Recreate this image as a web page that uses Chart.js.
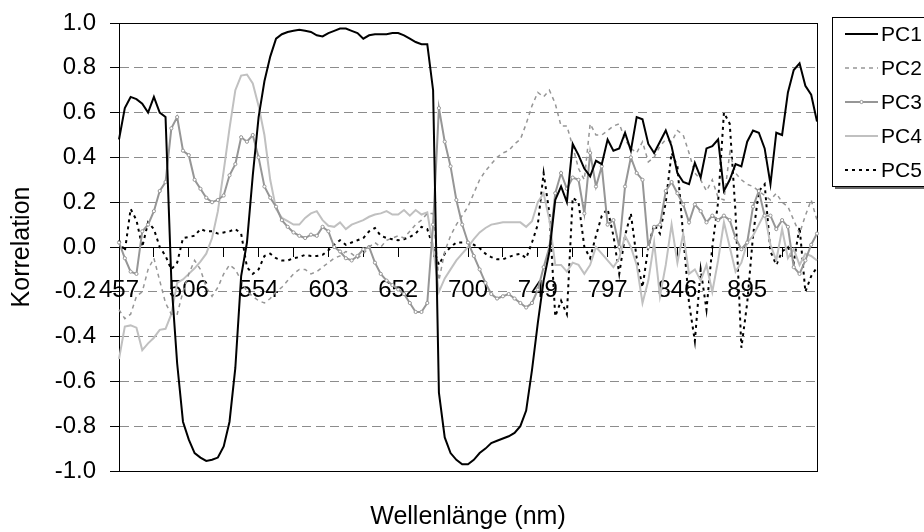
<!DOCTYPE html>
<html>
<head>
<meta charset="utf-8">
<script src="https://cdn.jsdelivr.net/npm/chart.js@4"></script>
<style>
  html, body { margin: 0; padding: 0; background: #fff; }
  #wrap { width: 924px; height: 532px; }
</style>
</head>
<body>
<div id="wrap"><canvas id="pcaChart" width="924" height="532"></canvas></div>
<script>
// wavelength categories (nm)
const wavelengths = [
    457, 461, 465, 469, 473, 477, 481, 486, 490, 494, 498, 502,
    506, 510, 514, 518, 522, 526, 530, 534, 538, 542, 546, 550,
    554, 558, 562, 566, 570, 574, 578, 583, 587, 591, 595, 599,
    603, 607, 611, 615, 619, 623, 627, 631, 635, 640, 644, 648,
    652, 656, 660, 664, 668, 672, 676, 680, 684, 688, 692, 696,
    700, 704, 708, 712, 716, 720, 724, 729, 733, 737, 741, 745,
    749, 753, 757, 761, 765, 769, 773, 777, 781, 785, 789, 793,
    797, 801, 805, 809, 813, 817, 821, 826, 830, 834, 838, 842,
    846, 850, 854, 858, 862, 866, 870, 874, 878, 882, 887, 891,
    895, 899, 903, 907, 911, 915, 919, 923, 927, 931, 935, 939,
    943
];

const pc1 = [
    0.48, 0.62, 0.67, 0.66, 0.64, 0.60, 0.67, 0.60, 0.58, -0.15,
    -0.52, -0.78, -0.86, -0.92, -0.94, -0.955, -0.95, -0.94, -0.89, -0.78,
    -0.54, -0.13, 0.02, 0.32, 0.58, 0.74, 0.85, 0.93, 0.95, 0.96,
    0.965, 0.97, 0.965, 0.96, 0.945, 0.94, 0.955, 0.965, 0.975, 0.975,
    0.965, 0.955, 0.93, 0.945, 0.95, 0.95, 0.95, 0.955, 0.955, 0.945,
    0.93, 0.915, 0.905, 0.905, 0.70, -0.65, -0.85, -0.92, -0.95, -0.97,
    -0.97, -0.95, -0.92, -0.90, -0.875, -0.865, -0.855, -0.845, -0.83, -0.80,
    -0.73, -0.55, -0.34, -0.15, -0.02, 0.21, 0.27, 0.20, 0.46, 0.41,
    0.35, 0.315, 0.385, 0.37, 0.48, 0.43, 0.44, 0.51, 0.43, 0.58,
    0.57, 0.46, 0.42, 0.47, 0.52, 0.45, 0.33, 0.29, 0.28, 0.375,
    0.31, 0.44, 0.45, 0.48, 0.25, 0.30, 0.37, 0.36, 0.47, 0.52,
    0.51, 0.44, 0.28, 0.51, 0.50, 0.69, 0.79, 0.82, 0.72, 0.68,
    0.56
];

const pc2 = [
    -0.28, -0.32, -0.30, -0.22, -0.20, -0.10, -0.05, -0.15, -0.25, -0.30,
    -0.30, -0.20, -0.12, -0.06, -0.10, -0.18, -0.22, -0.18, -0.12, -0.08,
    -0.10, -0.15, -0.20, -0.22, -0.24, -0.25, -0.23, -0.20, -0.18, -0.15,
    -0.12, -0.10, -0.10, -0.12, -0.11, -0.09, -0.07, -0.05, -0.04, -0.02,
    -0.03, -0.05, -0.03, 0.00, 0.02, 0.00, 0.03, 0.04, 0.05, 0.04,
    0.07, 0.10, 0.12, 0.15, 0.15, -0.15, -0.02, 0.05, 0.10, 0.14,
    0.18, 0.24, 0.30, 0.34, 0.37, 0.40, 0.42, 0.43, 0.46, 0.48,
    0.55, 0.63, 0.69, 0.67, 0.70, 0.64, 0.54, 0.54, 0.45, 0.35,
    0.30, 0.55, 0.50, 0.50, 0.52, 0.54, 0.55, 0.48, 0.44, 0.42,
    0.47, 0.38, 0.40, 0.45, 0.48, 0.47, 0.52, 0.50, 0.42, 0.33,
    0.30, 0.25, 0.30, 0.22, 0.21, 0.42, 0.33, 0.30, 0.28, 0.27,
    0.25, 0.23, 0.21, 0.24, 0.20, 0.18, 0.12, 0.06, 0.14, 0.21,
    0.12
];

const pc3 = [
    0.02, -0.05, -0.11, -0.12, 0.07, 0.10, 0.16, 0.25, 0.29, 0.53,
    0.58, 0.43, 0.41, 0.30, 0.26, 0.22, 0.20, 0.21, 0.23, 0.32,
    0.37, 0.49, 0.47, 0.50, 0.40, 0.27, 0.22, 0.18, 0.12, 0.09,
    0.065, 0.05, 0.04, 0.055, 0.05, 0.09, 0.07, 0.00, -0.02, -0.05,
    -0.06, -0.04, -0.01, 0.00, -0.07, -0.12, -0.15, -0.17, -0.19, -0.21,
    -0.25, -0.29, -0.29, -0.25, 0.10, 0.62, 0.47, 0.36, 0.21, 0.10,
    0.02, -0.04, -0.10, -0.16, -0.21, -0.23, -0.22, -0.21, -0.23, -0.25,
    -0.27, -0.25, -0.19, -0.09, 0.00, 0.24, 0.33, 0.26, 0.31, 0.30,
    0.15, 0.42, 0.27, 0.36, 0.10, 0.12, 0.00, 0.27, 0.40, 0.33,
    0.30, 0.00, 0.09, 0.10, 0.25, 0.29, 0.24, 0.19, 0.11, 0.19,
    0.16, 0.11, 0.14, 0.12, 0.14, 0.12, 0.04, -0.01, 0.02, 0.18,
    0.25, 0.14, 0.14, 0.08, 0.12, 0.09, -0.09, -0.12, -0.06, 0.01,
    0.06
];

const pc4 = [
    -0.50, -0.355, -0.35, -0.36, -0.46, -0.43, -0.405, -0.37, -0.365, -0.30,
    -0.16, -0.145, -0.12, -0.095, -0.065, -0.03, 0.04, 0.16, 0.34, 0.53,
    0.70, 0.765, 0.77, 0.73, 0.63, 0.50, 0.30, 0.17, 0.13, 0.115,
    0.10, 0.10, 0.13, 0.15, 0.16, 0.12, 0.095, 0.09, 0.11, 0.08,
    0.10, 0.11, 0.12, 0.135, 0.145, 0.15, 0.16, 0.145, 0.145, 0.165,
    0.14, 0.165, 0.145, 0.155, 0.00, -0.20, -0.14, -0.10, -0.06, -0.03,
    0.00, 0.035, 0.065, 0.085, 0.10, 0.105, 0.11, 0.11, 0.11, 0.11,
    0.09, 0.115, 0.20, 0.24, 0.12, -0.08, -0.08, -0.11, -0.07, -0.08,
    -0.12, -0.08, 0.00, -0.03, -0.06, -0.09, -0.05, 0.05, 0.00, -0.08,
    -0.25, -0.15, 0.02, -0.22, -0.08, 0.10, -0.07, 0.06, -0.12, -0.10,
    -0.15, -0.08, -0.20, -0.06, 0.11, 0.00, -0.11, -0.07, 0.02, 0.05,
    0.10, 0.15, 0.01, -0.06, 0.08, -0.05, -0.01, -0.08, -0.03, -0.04,
    -0.06
];

const pc5 = [
    0.03, -0.02, 0.17, 0.12, 0.00, 0.11, 0.08, 0.00, -0.04, -0.10,
    -0.07, 0.04, 0.045, 0.05, 0.08, 0.07, 0.07, 0.06, 0.065, 0.07,
    0.08, 0.06, -0.09, -0.12, -0.10, -0.04, -0.03, -0.05, -0.06, -0.06,
    -0.05, -0.045, -0.035, -0.04, -0.04, -0.035, -0.015, 0.01, 0.03, 0.01,
    0.02, 0.03, 0.04, 0.07, 0.085, 0.05, 0.04, 0.035, 0.03, 0.035,
    0.045, 0.06, 0.09, 0.08, 0.00, -0.08, -0.03, 0.00, 0.02, 0.02,
    0.02, 0.01, -0.005, -0.03, -0.045, -0.055, -0.055, -0.045, -0.035, -0.03,
    -0.05, 0.02, 0.10, 0.33, 0.15, -0.31, -0.24, -0.30, 0.22, 0.20,
    0.00, -0.05, 0.05, 0.14, 0.17, 0.05, -0.12, 0.05, 0.15, -0.05,
    -0.18, 0.00, 0.10, 0.06, 0.20, 0.42, 0.36, 0.05, -0.25, -0.42,
    -0.10, -0.28, 0.00, 0.20, 0.60, 0.55, 0.15, -0.45, -0.25, 0.05,
    0.25, 0.28, -0.02, -0.08, -0.02, 0.00, -0.07, 0.09, -0.20, -0.13,
    -0.09
];

const seriesNames = ['PC1', 'PC2', 'PC3', 'PC4', 'PC5'];
const xTitle = 'Wellenlänge (nm)';
const yTitle = 'Korrelation';

const FONT = '"Liberation Sans", Arial, sans-serif';
Chart.defaults.font.family = FONT;
Chart.defaults.color = '#000';

// frame round the plot area (Excel style)
const framePlugin = {
    id: 'frame',
    beforeDatasetsDraw(chart) {
        const a = chart.chartArea;
        const ctx = chart.ctx;
        ctx.save();
        ctx.strokeStyle = '#000';
        ctx.lineWidth = 1;
        ctx.strokeRect(Math.round(a.left) + 0.5, Math.round(a.top) + 0.5,
            Math.round(a.right - a.left), Math.round(a.bottom - a.top));
        ctx.restore();
    }
};

// x title sits at the bottom of the canvas, not next to the axis at y=0
const xTitlePlugin = {
    id: 'xTitle',
    afterDraw(chart) {
        const a = chart.chartArea;
        const ctx = chart.ctx;
        ctx.save();
        ctx.font = '25px ' + FONT;
        ctx.fillStyle = '#000';
        ctx.textAlign = 'center';
        ctx.textBaseline = 'middle';
        ctx.fillText(xTitle, (a.left + a.right) / 2, 517);
        ctx.restore();
    }
};

// boxed legend at the top right
const legendPlugin = {
    id: 'boxLegend',
    afterDraw(chart) {
        const ctx = chart.ctx;
        const boxX = 832, boxY = 17, boxW = 100, boxH = 169;
        ctx.save();
        ctx.fillStyle = '#666';
        ctx.fillRect(boxX + 3, boxY + boxH + 1, boxW, 2);
        ctx.fillStyle = '#fff';
        ctx.fillRect(boxX, boxY, boxW, boxH);
        ctx.strokeStyle = '#000';
        ctx.lineWidth = 1;
        ctx.strokeRect(boxX + 0.5, boxY + 0.5, boxW, boxH);

        chart.data.datasets.forEach((ds, i) => {
            const y = 34 + i * 34;
            ctx.save();
            ctx.strokeStyle = ds.borderColor;
            ctx.lineWidth = ds.borderWidth;
            ctx.setLineDash(ds.borderDash || []);
            ctx.beginPath();
            ctx.moveTo(845, y);
            ctx.lineTo(878, y);
            ctx.stroke();
            if (ds.pointRadius > 0) {
                ctx.setLineDash([]);
                ctx.lineWidth = 1;
                ctx.fillStyle = ds.pointBackgroundColor;
                ctx.strokeStyle = ds.pointBorderColor;
                ctx.beginPath();
                ctx.arc(861.5, y, ds.pointRadius, 0, Math.PI * 2);
                ctx.fill();
                ctx.stroke();
            }
            ctx.restore();

            ctx.fillStyle = '#000';
            ctx.font = '21px ' + FONT;
            ctx.textAlign = 'left';
            ctx.textBaseline = 'middle';
            ctx.fillText(ds.label, 881, y + 1);
        });
        ctx.restore();
    }
};

const ctx = document.getElementById('pcaChart').getContext('2d');
new Chart(ctx, {
    type: 'line',
    data: {
        labels: wavelengths,
        datasets: [
            {
                label: seriesNames[0],
                data: pc1,
                borderColor: '#000',
                borderWidth: 2,
                pointRadius: 0
            },
            {
                label: seriesNames[1],
                data: pc2,
                borderColor: '#969696',
                borderWidth: 1.5,
                borderDash: [4, 4],
                pointRadius: 0
            },
            {
                label: seriesNames[2],
                data: pc3,
                borderColor: '#969696',
                borderWidth: 2,
                pointRadius: 1.6,
                pointBorderWidth: 1,
                pointBackgroundColor: '#fff',
                pointBorderColor: '#969696'
            },
            {
                label: seriesNames[3],
                data: pc4,
                borderColor: '#c0c0c0',
                borderWidth: 2,
                pointRadius: 0
            },
            {
                label: seriesNames[4],
                data: pc5,
                borderColor: '#000',
                borderWidth: 2,
                borderDash: [3, 4],
                pointRadius: 0
            }
        ]
    },
    options: {
        responsive: false,
        animation: false,
        devicePixelRatio: 1,
        layout: { padding: { top: 23, right: 107, bottom: 61, left: 0 } },
        elements: { line: { tension: 0 } },
        plugins: {
            legend: { display: false }, // drawn by boxLegend
            tooltip: { enabled: false }
        },
        scales: {
            x: {
                type: 'category',
                position: { y: 0 },
                border: { display: true, color: '#000', width: 1 },
                grid: {
                    drawOnChartArea: false,
                    tickLength: 9,
                    tickColor: '#000',
                    tickWidth: (c) => (c.index % 6 === 0 ? 1 : 0)
                },
                ticks: {
                    autoSkip: false,
                    maxRotation: 0,
                    minRotation: 0,
                    padding: 20,
                    font: { size: 24 },
                    color: '#000',
                    callback: function (val, i) {
                        return (i % 12 === 0 && i < wavelengths.length - 1) ? String(this.getLabelForValue(val)) : '';
                    }
                },
                afterFit: (scale) => {
                    scale.paddingLeft = 0;
                    scale.paddingRight = 0;
                }
            },
            y: {
                min: -1,
                max: 1,
                border: { display: true, color: '#000', width: 1, dash: [9, 5] },
                grid: {
                    color: '#8c8c8c',
                    lineWidth: 1,
                    tickLength: 9,
                    tickColor: '#000',
                    tickBorderDash: []
                },
                ticks: {
                    stepSize: 0.2,
                    padding: 14,
                    font: { size: 24 },
                    color: '#000',
                    callback: (v) => (Math.abs(v) < 1e-9 ? '0.0' : v.toFixed(1))
                },
                title: {
                    display: true,
                    text: yTitle,
                    font: { size: 25 },
                    color: '#000',
                    padding: { top: 7, bottom: 0 }
                },
                afterFit: (scale) => {
                    scale.width = 119;
                    scale.paddingTop = 0;
                    scale.paddingBottom = 0;
                }
            }
        }
    },
    plugins: [framePlugin, xTitlePlugin, legendPlugin]
});
</script>
</body>
</html>
